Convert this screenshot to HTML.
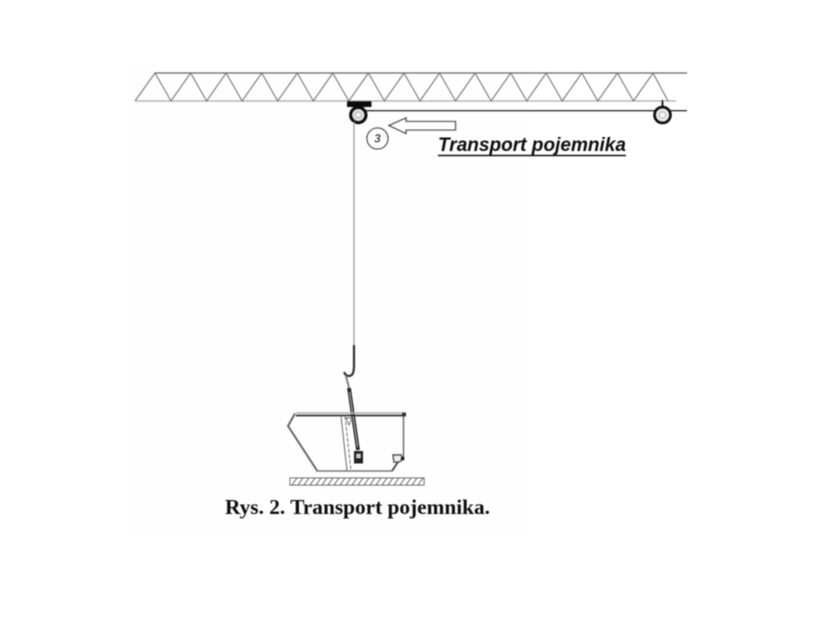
<!DOCTYPE html>
<html lang="pl">
<head>
<meta charset="utf-8">
<title>Rys. 2. Transport pojemnika</title>
<style>
html,body{margin:0;padding:0;background:#fff;width:840px;height:638px;overflow:hidden}
svg{display:block;position:absolute;left:0;top:0}
</style>
</head>
<body>
<svg width="840" height="638" viewBox="0 0 840 638" xmlns="http://www.w3.org/2000/svg">
<defs>
<filter id="b" x="-5%" y="-5%" width="110%" height="110%"><feGaussianBlur stdDeviation="0.45"/></filter>
</defs>
<rect x="130" y="66" width="400" height="468" fill="#fefefe"/>
<g filter="url(#b)">
<!-- truss -->
<line x1="155" y1="73" x2="687" y2="73" stroke="#666" stroke-width="1.3"/>
<line x1="135" y1="101" x2="676" y2="101" stroke="#a8a8a8" stroke-width="1.3"/>
<polyline fill="none" stroke="#777" stroke-width="1.1" points="135,101 155,73 171,101 190.6,73 206.6,101 226.1,73 242.1,101 261.7,73 277.7,101 297.3,73 313.3,101 332.8,73 348.8,101 368.4,73 384.4,101 404,73 420,101 439.5,73 455.5,101 475.1,73 491.1,101 510.7,73 526.7,101 546.2,73 562.2,101 581.8,73 597.8,101 617.4,73 633.4,101 653,73 668,101"/>
<!-- rail -->
<line x1="363" y1="110.7" x2="687" y2="110.7" stroke="#333" stroke-width="1.3"/>
<!-- trolley -->
<rect x="347" y="101" width="24.5" height="6" fill="#0a0a0a"/>
<circle cx="358.3" cy="115" r="7.5" fill="#e4e4e4" stroke="#0a0a0a" stroke-width="3.4"/>
<circle cx="358.3" cy="115" r="3" fill="#f4f4f4" stroke="#aaa" stroke-width="1"/>
<!-- right wheel -->
<line x1="662.5" y1="100" x2="662.5" y2="106" stroke="#111" stroke-width="1.8"/>
<circle cx="662.5" cy="115" r="7.8" fill="#eee" stroke="#0a0a0a" stroke-width="3"/>
<circle cx="662.5" cy="115" r="3.3" fill="#f6f6f6" stroke="#aaa" stroke-width="1"/>
<!-- cable -->
<line x1="354" y1="122" x2="354" y2="345" stroke="#9a9a9a" stroke-width="1.2"/>
<!-- direction arrow -->
<polygon points="389,125.5 406,118 406,121.5 455.5,121.5 455.5,130 406,130 406,133.5" fill="#fff" stroke="#444" stroke-width="1.3"/>
<!-- circled 3 -->
<circle cx="377.5" cy="138.5" r="10.5" fill="#fff" stroke="#444" stroke-width="1.3"/>
<text x="377.5" y="142.5" font-family="'Liberation Sans',sans-serif" font-size="12" font-weight="bold" font-style="italic" text-anchor="middle" fill="#111">3</text>
<!-- label -->
<text x="438" y="151" font-family="'Liberation Sans',sans-serif" font-size="19" font-weight="bold" font-style="italic" fill="#0a0a0a" textLength="188" lengthAdjust="spacingAndGlyphs">Transport pojemnika</text>
<line x1="438" y1="155.5" x2="626" y2="155.5" stroke="#111" stroke-width="1.6"/>
<!-- hook -->
<path d="M354,345 V366 Q354,376 349,376 Q345.5,376 344,372" fill="none" stroke="#333" stroke-width="2.2"/>
<path d="M346,376 L349,388" stroke="#777" stroke-width="1.8" fill="none"/>
<!-- lifting arm -->
<path d="M349,388 L358,450" stroke="#222" stroke-width="3.8" fill="none"/>
<path d="M349.5,392 L357.5,447" stroke="#aaa" stroke-width="0.9" fill="none"/>
<rect x="354" y="451" width="9" height="12.5" fill="#222"/>
<rect x="356.5" y="454" width="4" height="4" fill="#ccc"/>
<!-- container -->
<line x1="296" y1="413" x2="405" y2="413" stroke="#aaa" stroke-width="1.4"/>
<line x1="296" y1="415.5" x2="405" y2="415.5" stroke="#333" stroke-width="1.8"/>
<polyline points="295,413.5 288,426 317,470.5" fill="none" stroke="#666" stroke-width="2"/>
<line x1="316" y1="471" x2="392" y2="471" stroke="#777" stroke-width="1.4"/>
<line x1="392" y1="471" x2="400" y2="459" stroke="#444" stroke-width="1.8"/>
<line x1="403.5" y1="415" x2="403.5" y2="458" stroke="#666" stroke-width="1.4"/>
<rect x="402" y="412.5" width="4" height="4" fill="#333"/>
<polygon points="393,455 401,455 403,459 399,462 394,462" fill="#eee" stroke="#444" stroke-width="1.4"/>
<circle cx="402.5" cy="458.5" r="2" fill="#222"/>
<!-- inner stiffener -->
<line x1="341" y1="416" x2="347" y2="471" stroke="#666" stroke-width="1"/>
<line x1="345" y1="416" x2="351" y2="471" stroke="#777" stroke-width="1" stroke-dasharray="4 1.5"/>
<path d="M346,418 L352,418 L349,425 Z" fill="none" stroke="#666" stroke-width="0.9"/>
<!-- floor -->
<rect x="290" y="478" width="134" height="7" fill="#fff" stroke="#555" stroke-width="1"/>
<path fill="none" stroke="#666" stroke-width="1.1" d="M292,485l5,-7M298,485l5,-7M304,485l5,-7M310,485l5,-7M316,485l5,-7M322,485l5,-7M328,485l5,-7M334,485l5,-7M340,485l5,-7M346,485l5,-7M352,485l5,-7M358,485l5,-7M364,485l5,-7M370,485l5,-7M376,485l5,-7M382,485l5,-7M388,485l5,-7M394,485l5,-7M400,485l5,-7M406,485l5,-7M412,485l5,-7M418,485l5,-7"/>
<!-- caption -->
<text x="225" y="514" font-family="'Liberation Serif',serif" font-size="21" font-weight="bold" fill="#111" textLength="265" lengthAdjust="spacingAndGlyphs">Rys. 2. Transport pojemnika.</text>
</g>
</svg>
</body>
</html>
